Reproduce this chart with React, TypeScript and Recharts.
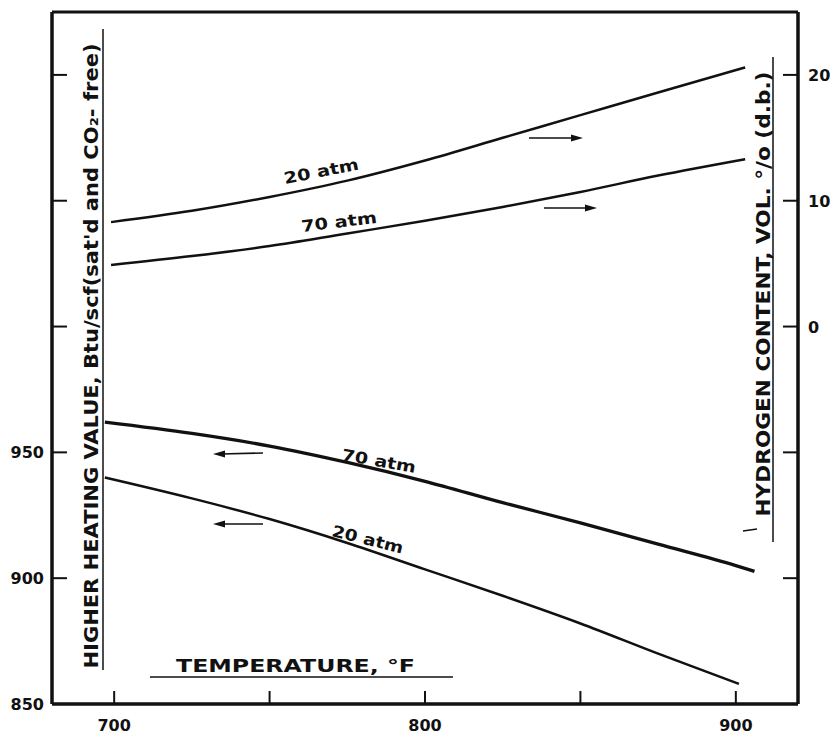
import React from 'react';
import { LineChart, Line, XAxis, YAxis } from 'recharts';

// Hydrogen content, vol % (d.b.) — right axis
const h2Temps = [699, 725, 750, 775, 800, 825, 850, 875, 903];
const h2At20atm = [8.3, 9.2, 10.3, 11.6, 13.2, 15.0, 16.8, 18.6, 20.6];
const h2At70atm = [4.9, 5.6, 6.4, 7.4, 8.4, 9.5, 10.7, 12.0, 13.3];

// Higher heating value, Btu/scf — left axis
const hhvTemps70 = [697, 725, 750, 775, 800, 825, 850, 875, 900, 906];
const hhvAt70atm = [962, 957.5, 952.5, 946, 938.5, 930, 922, 913.5, 905, 902.7];
const hhvTemps20 = [697, 725, 750, 775, 800, 825, 850, 875, 901];
const hhvAt20atm = [940, 931.7, 923.5, 914, 903.5, 893, 882, 870, 858];

const tempTicks = [700, 750, 800, 850, 900];
const tempLabels = [700, 800, 900];
const hhvTicks = [850, 900, 950, 1000, 1050, 1100];
const hhvLabels = [850, 900, 950];
const h2Ticks = [-20, -10, 0, 10, 20];
const h2Labels = [0, 10, 20];

const toPoints = (ts: number[], vs: number[]) => ts.map((t, i) => ({ t, v: vs[i] }));

const FONT = '"DejaVu Sans", sans-serif';
const INK = '#111';

const BottomTick = ({ x, y, payload }: any) => (
  <g>
    <line x1={x} y1={y} x2={x} y2={y - 13} stroke={INK} strokeWidth={2} />
    {tempLabels.includes(payload.value) && (
      <text x={x} y={y + 27} textAnchor="middle" fontFamily={FONT} fontWeight="bold" fontSize={16} fill={INK}>
        {payload.value}
      </text>
    )}
  </g>
);

const TopTick = ({ x, y }: any) => (
  <line x1={x} y1={y} x2={x} y2={y + 13} stroke={INK} strokeWidth={2} />
);

const LeftTick = ({ x, y, payload }: any) => (
  <g>
    <line x1={x} y1={y} x2={x + 15} y2={y} stroke={INK} strokeWidth={2} />
    {hhvLabels.includes(payload.value) && (
      <text x={x - 8} y={y + 6} textAnchor="end" fontFamily={FONT} fontWeight="bold" fontSize={16} fill={INK}>
        {payload.value}
      </text>
    )}
  </g>
);

const RightTick = ({ x, y, payload }: any) => (
  <g>
    <line x1={x} y1={y} x2={x - 15} y2={y} stroke={INK} strokeWidth={2} />
    {h2Labels.includes(payload.value) && (
      <text x={x + 10} y={y + 6} textAnchor="start" fontFamily={FONT} fontWeight="bold" fontSize={16} fill={INK}>
        {payload.value}
      </text>
    )}
  </g>
);

const Arrow = ({ x1, y1, x2, y2 }: { x1: number; y1: number; x2: number; y2: number }) => {
  const dir = Math.sign(x2 - x1);
  return (
    <g>
      <line x1={x1} y1={y1} x2={x2 - dir * 8} y2={y2} stroke={INK} strokeWidth={1.6} />
      <polygon points={`${x2},${y2} ${x2 - dir * 12},${y2 - 3.5} ${x2 - dir * 12},${y2 + 3.5}`} fill={INK} />
    </g>
  );
};

const CurveLabel = ({ x, y, angle, len, children }: any) => (
  <text
    transform={`translate(${x},${y}) rotate(${angle})`}
    textLength={len}
    lengthAdjust="spacingAndGlyphs"
    fontFamily={FONT}
    fontWeight="bold"
    fontSize={16}
    fill={INK}
  >
    {children}
  </text>
);

export default function App() {
  return (
    <div style={{ position: 'absolute', left: 0, top: 0, width: 833, height: 736, background: '#fff' }}>
      {/* axes get a 1px band so they render; frame edges sit at x 52/798, y 12/704 */}
      <LineChart width={833} height={736} margin={{ top: 11, right: 34, bottom: 31, left: 51 }}>
        <XAxis
          dataKey="t"
          type="number"
          domain={[680, 920]}
          ticks={tempTicks}
          interval={0}
          height={1}
          tickSize={0}
          tickMargin={0}
          tickLine={false}
          tick={<BottomTick />}
          axisLine={{ stroke: INK, strokeWidth: 3.5 }}
          allowDataOverflow
        />
        <XAxis
          xAxisId="top"
          orientation="top"
          type="number"
          domain={[680, 920]}
          ticks={tempTicks}
          interval={0}
          height={1}
          tickSize={0}
          tickMargin={0}
          tickLine={false}
          tick={<TopTick />}
          axisLine={{ stroke: INK, strokeWidth: 3 }}
          allowDataOverflow
        />
        <YAxis
          yAxisId="left"
          type="number"
          domain={[850, 1125]}
          ticks={hhvTicks}
          interval={0}
          width={1}
          tickSize={0}
          tickMargin={0}
          tickLine={false}
          tick={<LeftTick />}
          axisLine={{ stroke: INK, strokeWidth: 3.5 }}
          allowDataOverflow
        />
        <YAxis
          yAxisId="right"
          orientation="right"
          type="number"
          domain={[-30, 25]}
          ticks={h2Ticks}
          interval={0}
          width={1}
          tickSize={0}
          tickMargin={0}
          tickLine={false}
          tick={<RightTick />}
          axisLine={{ stroke: INK, strokeWidth: 3.5 }}
          allowDataOverflow
        />
        <Line yAxisId="right" data={toPoints(h2Temps, h2At20atm)} dataKey="v" type="monotone" stroke={INK} strokeWidth={2.5} dot={false} isAnimationActive={false} />
        <Line yAxisId="right" data={toPoints(h2Temps, h2At70atm)} dataKey="v" type="monotone" stroke={INK} strokeWidth={2.5} dot={false} isAnimationActive={false} />
        <Line yAxisId="left" data={toPoints(hhvTemps70, hhvAt70atm)} dataKey="v" type="monotone" stroke={INK} strokeWidth={3.3} dot={false} isAnimationActive={false} />
        <Line yAxisId="left" data={toPoints(hhvTemps20, hhvAt20atm)} dataKey="v" type="monotone" stroke={INK} strokeWidth={2.5} dot={false} isAnimationActive={false} />
      </LineChart>

      <svg width={833} height={736} style={{ position: 'absolute', left: 0, top: 0, pointerEvents: 'none' }}>
        {/* axis titles */}
        <text
          transform="translate(98,356) rotate(-90)"
          textAnchor="middle"
          textLength={625}
          lengthAdjust="spacingAndGlyphs"
          fontFamily={FONT}
          fontWeight="bold"
          fontSize={19}
          fill={INK}
        >
          HIGHER HEATING VALUE, Btu/scf(sat'd and CO₂- free)
        </text>
        <line x1={103} y1={29} x2={103} y2={670} stroke={INK} strokeWidth={1.5} />

        <text
          transform="translate(770,294) rotate(-90)"
          textAnchor="middle"
          textLength={445}
          lengthAdjust="spacingAndGlyphs"
          fontFamily={FONT}
          fontWeight="bold"
          fontSize={19}
          fill={INK}
        >
          HYDROGEN CONTENT, VOL. °/o (d.b.)
        </text>
        <line x1={773} y1={57} x2={773} y2={542} stroke={INK} strokeWidth={1.5} />

        <text
          x={176}
          y={672}
          textLength={239}
          lengthAdjust="spacingAndGlyphs"
          fontFamily={FONT}
          fontWeight="bold"
          fontSize={18}
          fill={INK}
        >
          TEMPERATURE, °F
        </text>
        <line x1={150} y1={677} x2={453} y2={677} stroke={INK} strokeWidth={1.5} />

        {/* curve labels */}
        <CurveLabel x={285} y={184} angle={-11} len={76}>20 atm</CurveLabel>
        <CurveLabel x={302} y={232} angle={-7} len={76}>70 atm</CurveLabel>
        <CurveLabel x={341} y={460} angle={10} len={75}>70 atm</CurveLabel>
        <CurveLabel x={331} y={536} angle={14} len={73}>20 atm</CurveLabel>

        {/* direction arrows pointing to the relevant axis */}
        <Arrow x1={529} y1={138} x2={583} y2={138} />
        <Arrow x1={544} y1={208} x2={597} y2={208} />
        <Arrow x1={263} y1={453} x2={213} y2={454} />
        <Arrow x1={263} y1={524} x2={213} y2={524} />

        <line x1={743} y1={531} x2={757} y2={529} stroke={INK} strokeWidth={1.5} />
      </svg>
    </div>
  );
}
